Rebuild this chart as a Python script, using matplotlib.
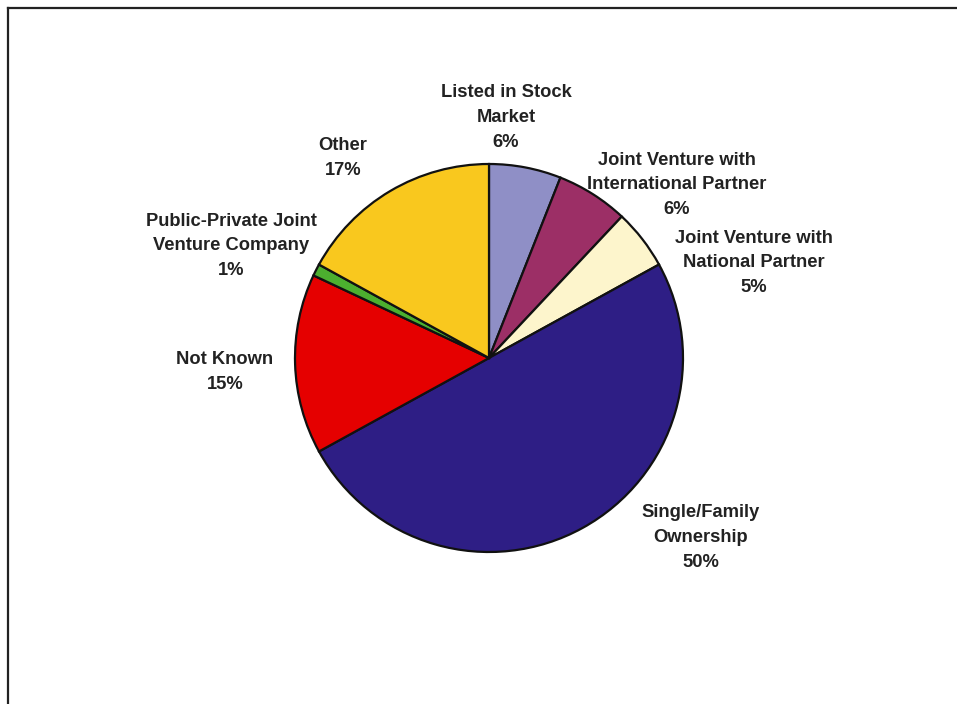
import matplotlib
matplotlib.use("Agg")
import matplotlib.pyplot as plt
from matplotlib.lines import Line2D

# Ownership breakdown
categories = [
    "Listed in Stock\nMarket",
    "Joint Venture with\nInternational Partner",
    "Joint Venture with\nNational Partner",
    "Single/Family\nOwnership",
    "Not Known",
    "Public-Private Joint\nVenture Company",
    "Other",
]
shares = [6, 6, 5, 50, 15, 1, 17]
colors = ["#8f8fc6", "#9c2f66", "#fdf5cc", "#2e1e85", "#e50000", "#4caf2f", "#f9c81e"]

# label anchor points, in units of the pie radius
label_xy = [
    (0.088, 1.240),
    (0.969, 0.892),
    (1.366, 0.490),
    (1.093, -0.925),
    (-1.361, -0.074),
    (-1.330, 0.578),
    (-0.753, 1.031),
]

W, H = 957, 704
cx, cy, r = 489, 358, 194

fig = plt.figure(figsize=(W / 100, H / 100), dpi=100)
ax = fig.add_axes([0, 0, 1, 1])

ax.pie(
    shares,
    colors=colors,
    startangle=90,
    counterclock=False,
    radius=1.0,
    wedgeprops=dict(edgecolor="#111111", linewidth=1.6),
    frame=True,
)
ax.set_xlim(-cx / r, (W - cx) / r)
ax.set_ylim(-(H - cy) / r, cy / r)
ax.set_aspect("auto")
ax.axis("off")

for name, val, (x, y) in zip(categories, shares, label_xy):
    ax.text(
        x, y, f"{name}\n{val}%",
        ha="center", va="center",
        fontsize=13.2, fontweight="bold", family="Liberation Sans",
        color="#222222", linespacing=1.6,
    )

# outer frame (top and left edges)
fx = 8 / W
fy = 1 - 8 / H
fig.add_artist(Line2D([fx, 1], [fy, fy], transform=fig.transFigure, color="#222222", linewidth=1.6))
fig.add_artist(Line2D([fx, fx], [0, fy], transform=fig.transFigure, color="#222222", linewidth=1.6))

fig.savefig("out.png", dpi=100, facecolor="white")
